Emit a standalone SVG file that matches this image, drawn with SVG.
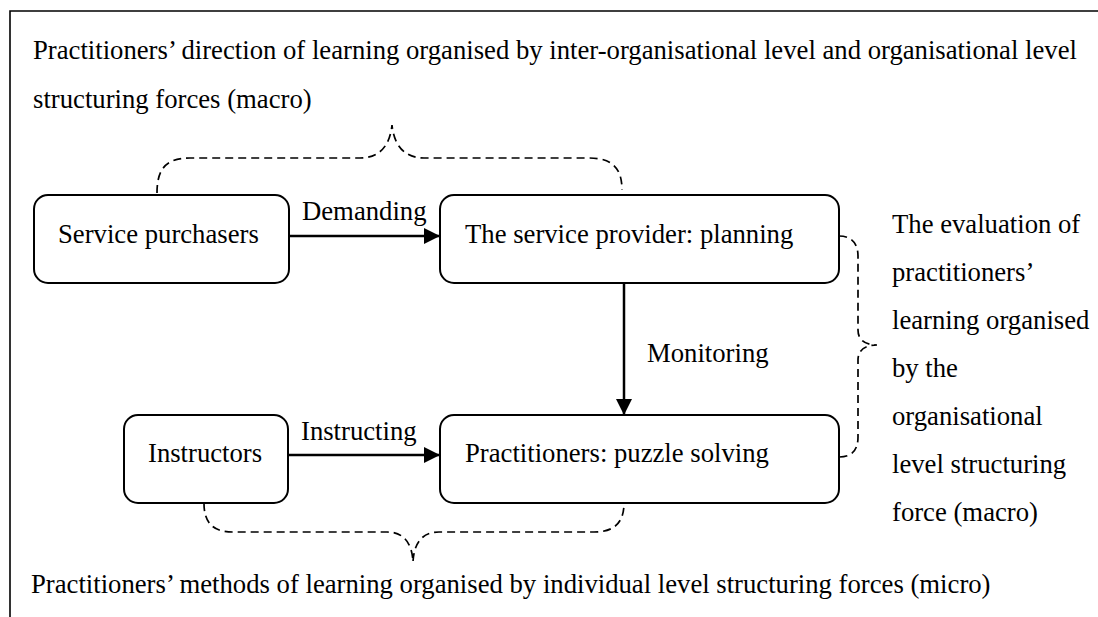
<svg xmlns="http://www.w3.org/2000/svg" width="1098" height="617" viewBox="0 0 1098 617">
<style>
text{font-family:"Liberation Serif","Times New Roman",serif;font-size:26.7px;fill:#000}
.box{fill:#fff;stroke:#000;stroke-width:2}
.arr{stroke:#000;stroke-width:2.5;fill:none}
.brace{stroke:#000;stroke-width:1.7;fill:none;stroke-dasharray:8 5}
</style>
<defs>
<marker id="ah" viewBox="0 0 16 16" refX="16" refY="8" markerWidth="16" markerHeight="16" markerUnits="userSpaceOnUse" orient="auto">
<path d="M0,0 L16,8 L0,16 Z" fill="#000"/>
</marker>
</defs>
<rect width="1098" height="617" fill="#fff"/>
<path d="M10,617 L10,11 L1098,11" fill="none" stroke="#000" stroke-width="1.6"/>

<g id="label-top">
<text x="33" y="59">Practitioners’ direction of learning organised by inter-organisational level and organisational level</text>
<text x="33" y="108">structuring forces (macro)</text>
</g>

<g id="connectors">
<line class="arr" x1="289" y1="236" x2="440" y2="236" marker-end="url(#ah)"/>
<line class="arr" x1="288" y1="455" x2="440" y2="455" marker-end="url(#ah)"/>
<line class="arr" x1="624" y1="283" x2="624" y2="415" marker-end="url(#ah)"/>
<path class="brace" d="M157,193 C157,170 165,158 190,158 L360,158 C380,158 390,145 392,125 C394,145 404,158 424,158 L589,158 C614,158 622,170 622,190"/>
<path class="brace" d="M839,236 C852,236 858,244 858,256 L858,330 C858,340 865,345 877,345 C865,345 858,350 858,360 L858,437 C858,450 852,457 839,457"/>
<path class="brace" d="M204,503 C204,522 212,532 233,532 L387,532 C403,532 412,542 413,562 C414,542 423,532 439,532 L594,532 C615,532 624,522 624,503"/>
<text x="302" y="220">Demanding</text>
<text x="301" y="440">Instructing</text>
<text x="647" y="362">Monitoring</text>
</g>

<g id="node-service-purchasers">
<rect class="box" x="34" y="195" width="255" height="88" rx="14"/>
<text x="58" y="243">Service purchasers</text>
</g>
<g id="node-service-provider">
<rect class="box" x="440" y="195" width="399" height="88" rx="14"/>
<text x="465" y="243">The service provider: planning</text>
</g>
<g id="node-instructors">
<rect class="box" x="124" y="415" width="164" height="88" rx="14"/>
<text x="148" y="462">Instructors</text>
</g>
<g id="node-practitioners">
<rect class="box" x="440" y="415" width="399" height="88" rx="14"/>
<text x="465" y="462">Practitioners: puzzle solving</text>
</g>

<g id="label-right">
<text x="892" y="233">The evaluation of</text>
<text x="892" y="281">practitioners’</text>
<text x="892" y="329">learning organised</text>
<text x="892" y="377">by the</text>
<text x="892" y="425">organisational</text>
<text x="892" y="473">level structuring</text>
<text x="892" y="521">force (macro)</text>
</g>

<g id="label-bottom">
<text x="31" y="593">Practitioners’ methods of learning organised by individual level structuring forces (micro)</text>
</g>
</svg>
